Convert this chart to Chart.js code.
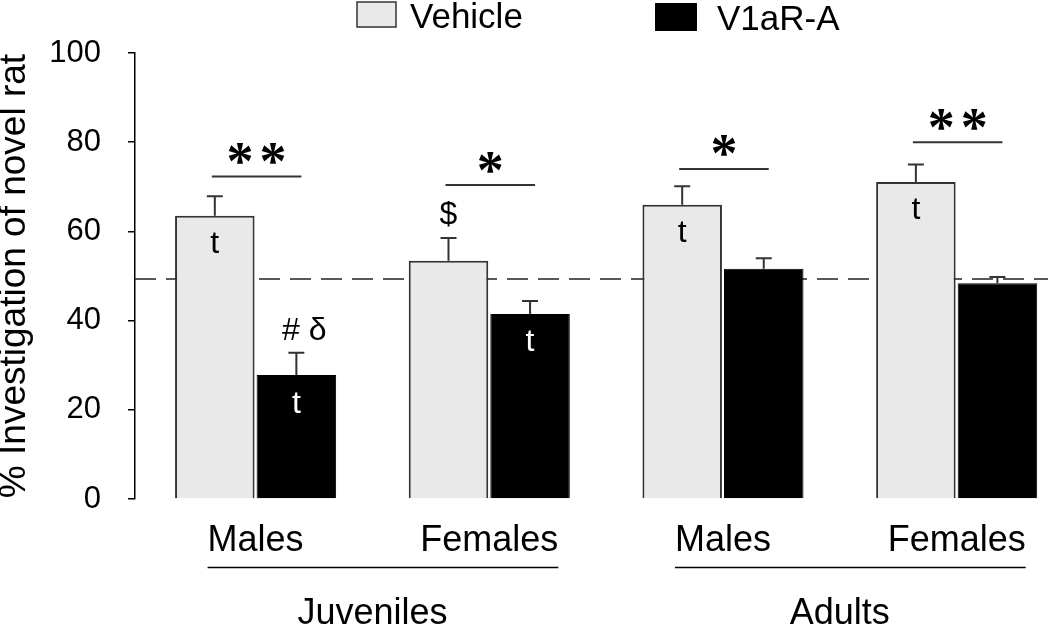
<!DOCTYPE html>
<html>
<head>
<meta charset="utf-8">
<script src="https://cdn.jsdelivr.net/npm/chart.js@4.4.1/dist/chart.umd.min.js"></script>
<style>
  html, body { margin: 0; padding: 0; background: #fff; }
</style>
</head>
<body>
<canvas id="chart" width="1050" height="624"></canvas>
<script>
var groups = ["Males", "Females", "Males", "Females"];
var ages = ["Juveniles", "Adults"];
var vehicle = [63.5, 53.4, 66.0, 71.1];
var vehicleErr = [4.4, 5.1, 4.1, 3.9];
var v1ar = [27.8, 41.5, 51.6, 48.4];
var v1arErr = [5.0, 2.9, 2.4, 1.4];
var chanceLevel = 49.3;
var yTicks = [0, 20, 40, 60, 80, 100];
var sigLevel = [72.3, 70.4, 74.0, 80.0];
var sigStars = ["**", "*", "*", "**"];
var vehicleInside = ["t", "", "t", "t"];
var v1arInside = ["t", "t", "", ""];
var vehicleAbove = ["", "$", "", ""];
var v1arAbove = ["# δ", "", "", ""];

var FONT = "'Liberation Sans', Arial, sans-serif";
Chart.defaults.font.family = FONT;
Chart.defaults.color = "#000";

// draw text so that its ink is centred on (cx, cy)
function inkText(ctx, text, cx, cy, align) {
  ctx.textAlign = align || "center";
  ctx.textBaseline = "alphabetic";
  var m = ctx.measureText(text);
  ctx.fillText(text, cx, cy + (m.actualBoundingBoxAscent - m.actualBoundingBoxDescent) / 2);
}

var extras = {
  id: "extras",
  beforeDatasetsDraw: function (chart) {
    var ctx = chart.ctx;
    var y = chart.scales.y.getPixelForValue(chanceLevel);
    ctx.save();
    ctx.setLineDash([21, 10]);
    ctx.strokeStyle = "#222";
    ctx.lineWidth = 1.5;
    ctx.beginPath();
    ctx.moveTo(chart.chartArea.left, y);
    ctx.lineTo(chart.width - 2, y);
    ctx.stroke();
    ctx.restore();
  },
  afterDatasetsDraw: function (chart) {
    var ctx = chart.ctx;
    var ys = chart.scales.y;
    var xs = chart.scales.x;
    ctx.save();

    // error bars + marks on / above bars
    chart.data.datasets.forEach(function (ds, d) {
      var meta = chart.getDatasetMeta(d);
      meta.data.forEach(function (bar, i) {
        var top = ys.getPixelForValue(ds.data[i].y + ds.err[i]);
        ctx.strokeStyle = "#333";
        ctx.lineWidth = 2;
        ctx.beginPath();
        ctx.moveTo(bar.x, bar.y);
        ctx.lineTo(bar.x, top);
        ctx.moveTo(bar.x - 8, top);
        ctx.lineTo(bar.x + 8, top);
        ctx.stroke();

        ctx.font = "32px " + FONT;
        if (ds.inside[i]) {
          ctx.fillStyle = ds.insideColor;
          inkText(ctx, ds.inside[i], bar.x, bar.y + 27);
        }
        if (ds.above[i]) {
          ctx.fillStyle = "#000";
          inkText(ctx, ds.above[i], bar.x + (ds.above[i].length > 1 ? 8 : 0), top - 24);
        }
      });
    });

    // significance lines and stars
    var m0 = chart.getDatasetMeta(0), m1 = chart.getDatasetMeta(1);
    groups.forEach(function (g, i) {
      var y = ys.getPixelForValue(sigLevel[i]);
      var x0 = m0.data[i].x - 3, x1 = m1.data[i].x + 5;
      ctx.strokeStyle = "#333";
      ctx.lineWidth = 2;
      ctx.beginPath();
      ctx.moveTo(x0, y);
      ctx.lineTo(x1, y);
      ctx.stroke();
      ctx.fillStyle = "#000";
      ctx.font = "bold 54px 'Liberation Serif', 'Times New Roman', serif";
      var n = sigStars[i].length;
      for (var k = 0; k < n; k++) {
        inkText(ctx, "*", (x0 + x1) / 2 + (k - (n - 1) / 2) * 33, y - 23);
      }
    });

    // age group labels with underline
    ctx.font = "36px " + FONT;
    ages.forEach(function (a, j) {
      var c0 = xs.getPixelForValue(2 * j + 1), c1 = xs.getPixelForValue(2 * j + 2);
      var w0 = ctx.measureText(groups[2 * j]).width, w1 = ctx.measureText(groups[2 * j + 1]).width;
      ctx.strokeStyle = "#000";
      ctx.lineWidth = 1.5;
      ctx.beginPath();
      ctx.moveTo(c0 - w0 / 2, 567.5);
      ctx.lineTo(c1 + w1 / 2, 567.5);
      ctx.stroke();
      ctx.fillStyle = "#000";
      inkText(ctx, a, (c0 + c1) / 2, 610);
    });

    // legend
    var ds0 = chart.data.datasets[0], ds1 = chart.data.datasets[1];
    ctx.fillStyle = ds0.backgroundColor;
    ctx.fillRect(357, 2, 39, 25);
    ctx.strokeStyle = ds0.borderColor;
    ctx.lineWidth = 1.5;
    ctx.strokeRect(357, 2, 39, 25);
    ctx.fillStyle = ds1.backgroundColor;
    ctx.fillRect(655, 3, 42, 28);
    ctx.fillStyle = "#000";
    ctx.font = "35px " + FONT;
    inkText(ctx, ds0.label, 410, 15, "left");
    inkText(ctx, ds1.label, 717, 18, "left");

    ctx.restore();
  }
};

var chart = new Chart(document.getElementById("chart"), {
  type: "bar",
  data: {
    datasets: [
      {
        label: "Vehicle",
        data: vehicle.map(function (v, i) { return { x: i + 1, y: v }; }),
        backgroundColor: "#e9e9e9",
        borderColor: "#333",
        borderWidth: 2,
        err: vehicleErr,
        inside: vehicleInside,
        above: vehicleAbove,
        insideColor: "#000",
      },
      {
        label: "V1aR-A",
        data: v1ar.map(function (v, i) { return { x: i + 1, y: v }; }),
        backgroundColor: "#000",
        borderColor: "#000",
        borderWidth: 1,
        err: v1arErr,
        inside: v1arInside,
        above: v1arAbove,
        insideColor: "#fff",
      },
    ],
  },
  options: {
    responsive: false,
    animation: false,
    categoryPercentage: 0.698,
    barPercentage: 0.975,
    layout: { padding: { top: 53, right: 5, left: 0, bottom: 0 } },
    plugins: {
      legend: { display: false },
      tooltip: { enabled: false },
    },
    scales: {
      x: {
        type: "linear",
        min: 0.484,
        max: 4.378,
        offset: false,
        bounds: "data",
        afterBuildTicks: function (s) {
          s.ticks = groups.map(function (g, i) { return { value: i + 1 }; });
        },
        afterFit: function (s) { s.height = 125; },
        ticks: {
          autoSkip: false,
          maxRotation: 0,
          includeBounds: false,
          padding: 12,
          font: { size: 36 },
          color: "#000",
          callback: function (v, i) { return groups[i]; },
        },
        grid: { display: false, offset: false },
        border: { display: false },
      },
      y: {
        min: 0,
        max: 100,
        afterBuildTicks: function (s) {
          s.ticks = yTicks.map(function (v) { return { value: v }; });
        },
        afterFit: function (s) { s.width = 135; },
        ticks: { font: { size: 31 }, color: "#000", padding: 27 },
        grid: { drawOnChartArea: false, drawTicks: true, tickLength: 7, color: "#000", lineWidth: 1.5 },
        border: { display: true, color: "#000", width: 1.5 },
        title: {
          display: true,
          text: "% Investigation of novel rat",
          font: { size: 37, lineHeight: 0.81 },
          color: "#000",
          padding: 0,
        },
      },
    },
  },
  plugins: [extras],
});
</script>
</body>
</html>
